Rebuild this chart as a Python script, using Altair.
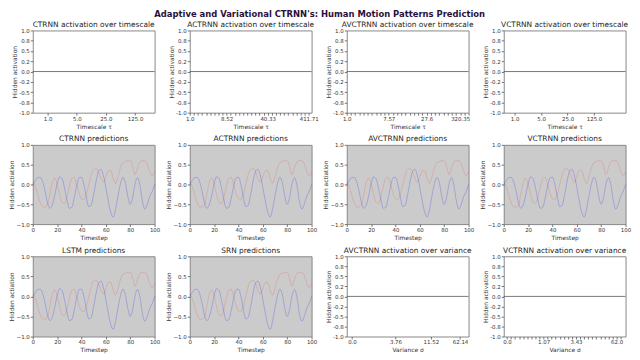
import altair as alt
import pandas as pd

# ---------------- data ----------------
timesteps = list(range(0, 101, 2))
target = [0.05, -0.05, -0.25, -0.45, -0.56, -0.57, -0.52, -0.25, 0.05, 0.16,
          0.02, -0.25, -0.45, -0.48, -0.32, -0.05, 0.15, 0.18, 0.0, -0.22,
          -0.36, -0.38, -0.25, 0.0, 0.25, 0.38, 0.40, 0.32, 0.15, 0.06,
          0.20, 0.35, 0.35, 0.15, 0.03, 0.20, 0.42, 0.55, 0.58, 0.60,
          0.60, 0.45, 0.25, 0.42, 0.57, 0.60, 0.60, 0.52, 0.33, 0.22, 0.32]
prediction = [-0.02, 0.10, 0.17, 0.18, 0.08, -0.15, -0.45, -0.60, -0.52, -0.28,
              0.02, 0.19, 0.15, -0.08, -0.38, -0.60, -0.58, -0.35, -0.05, 0.17,
              0.18, 0.0, -0.32, -0.56, -0.52, -0.25, 0.08, 0.33, 0.38, 0.22,
              -0.08, -0.42, -0.70, -0.82, -0.62, -0.28, 0.02, 0.18, 0.05, -0.30,
              -0.50, -0.32, 0.02, 0.17, -0.02, -0.42, -0.62, -0.50, -0.30, -0.18, 0.0]

act_yvals = [-1, -0.75, -0.5, -0.25, 0, 0.25, 0.5, 0.75, 1]
act_ylabels = ["-1.0", "-0.8", "-0.5", "-0.2", "0.0", "0.2", "0.5", "0.8", "1.0"]

ctrnn_tau = ["1.0", "5.0", "25.0", "125.0"]
actrnn_tau = ["1.0", "8.52", "40.33", "411.71"]
avctrnn_tau = ["1.0", "7.57", "27.6", "320.35"]
vctrnn_tau = ["1.0", "5.0", "25.0", "125.0"]
avctrnn_sigma = ["0.0", "3.76", "11.52", "62.14"]
vctrnn_sigma = ["0.0", "1.07", "3.43", "62.0"]

FONT = "DejaVu Sans"
W = 123
H = [83, 80, 81]


def ptitle(text):
    return alt.TitleParams(text=text, frame="group", offset=0)


def act_panel(title, xtitle, labels, label_idx, tick_idx, domain, h):
    df = pd.DataFrame({"idx": tick_idx, "act": [0] * len(tick_idx)})
    xexpr = (f"indexof({label_idx}, datum.value) >= 0 ? "
             f"{labels}[indexof({label_idx}, datum.value)] : ''")
    yexpr = f"{act_ylabels}[indexof({act_yvals}, datum.value)]"
    yenc = alt.Y("act:Q", scale=alt.Scale(domain=[-1, 1], nice=False),
                 axis=alt.Axis(values=act_yvals, labelExpr=yexpr,
                               title="Hidden activation", labelOverlap=False,
                               labelFlush=False))
    pts = alt.Chart(df).mark_point(opacity=0).encode(
        x=alt.X("idx:Q", scale=alt.Scale(domain=domain, nice=False, zero=False),
                axis=alt.Axis(values=tick_idx, labelExpr=xexpr, title=xtitle,
                              labelOverlap=False, labelFlush=False)),
        y=yenc,
    )
    rule = alt.Chart(df.head(1)).mark_rule(color="#555555", strokeWidth=0.8).encode(
        y=yenc)
    return alt.layer(pts, rule).properties(
        width=W, height=h, title=ptitle(title),
        view=alt.ViewBackground(fill="white", stroke="#888888"))


def pred_panel(title, h):
    df = pd.DataFrame({"t": timesteps * 2,
                       "v": target + prediction,
                       "s": ["target"] * len(timesteps) + ["prediction"] * len(timesteps)})
    x = alt.X("t:Q", scale=alt.Scale(domain=[0, 100], nice=False),
              axis=alt.Axis(values=[0, 20, 40, 60, 80, 100], title="Timestep",
                            format="d", labelFlush=False))
    y = alt.Y("v:Q", scale=alt.Scale(domain=[-1, 1], nice=False),
              axis=alt.Axis(values=[-1, -0.5, 0, 0.5, 1], format=".1f",
                            title="Hidden actiation", labelFlush=False))
    red = alt.Chart(df).transform_filter(alt.datum.s == "target").mark_line(
        color="red", opacity=0.14, strokeWidth=1, interpolate="monotone").encode(x=x, y=y)
    blue = alt.Chart(df).transform_filter(alt.datum.s == "prediction").mark_line(
        color="blue", opacity=0.2, strokeWidth=1, interpolate="monotone").encode(x=x, y=y)
    return alt.layer(red, blue).properties(
        width=W, height=h, title=ptitle(title),
        view=alt.ViewBackground(fill="#cbcbcb", stroke="#888888"))


dense = list(range(30))
panels = [
    act_panel("CTRNN activation over timescale", "Timescale τ", ctrnn_tau,
              [0, 1, 2, 3], [0, 1, 2, 3], [-0.51, 3.67], H[0]),
    act_panel("ACTRNN activation over timescale", "Timescale τ", actrnn_tau,
              [0, 9, 19, 29], dense, [0, 29.7], H[0]),
    act_panel("AVCTRNN activation over timescale", "Timescale τ", avctrnn_tau,
              [0, 10, 19, 27], dense, [0, 29], H[0]),
    act_panel("VCTRNN activation over timescale", "Timescale τ", vctrnn_tau,
              [0, 1, 2, 3], [0, 1, 2, 3], [-0.41, 4.19], H[0]),
    pred_panel("CTRNN predictions", H[1]),
    pred_panel("ACTRNN predictions", H[1]),
    pred_panel("AVCTRNN predictions", H[1]),
    pred_panel("VCTRNN predictions", H[1]),
    pred_panel("LSTM predictions", H[2]),
    pred_panel("SRN predictions", H[2]),
    act_panel("AVCTRNN activation over variance", "Variance σ", avctrnn_sigma,
              [4.3, 40, 69, 93], [4.3, 40, 69, 93], [0, 100], H[2]),
    act_panel("VCTRNN activation over variance", "Variance σ", vctrnn_sigma,
              [0, 9, 17, 27], list(range(29)), [-0.8, 29.2], H[2]),
]

chart = alt.concat(*panels, columns=4, spacing={"row": 32.5, "column": 35.5},
                   bounds="flush").properties(
    title=alt.TitleParams(
        text="Adaptive and Variational CTRNN's: Human Motion Patterns Prediction",
        font=FONT, fontSize=8.5, fontWeight="bold", color="#2a0f3d",
        anchor="middle", offset=2),
    padding=0,
).configure(font=FONT).configure_axis(
    labelFont=FONT, titleFont=FONT, labelFontSize=5.5, titleFontSize=6,
    labelColor="#333333", titleColor="#333333", titleFontWeight="normal",
    grid=False, domain=False, tickColor="#555555", tickSize=2.5, tickWidth=0.8,
    labelPadding=1, titlePadding=1.5,
).configure_title(
    font=FONT, fontSize=7.5, fontWeight="normal", color="#222222",
)

chart.save("out.html", embed_options={"renderer": "svg", "actions": False})
